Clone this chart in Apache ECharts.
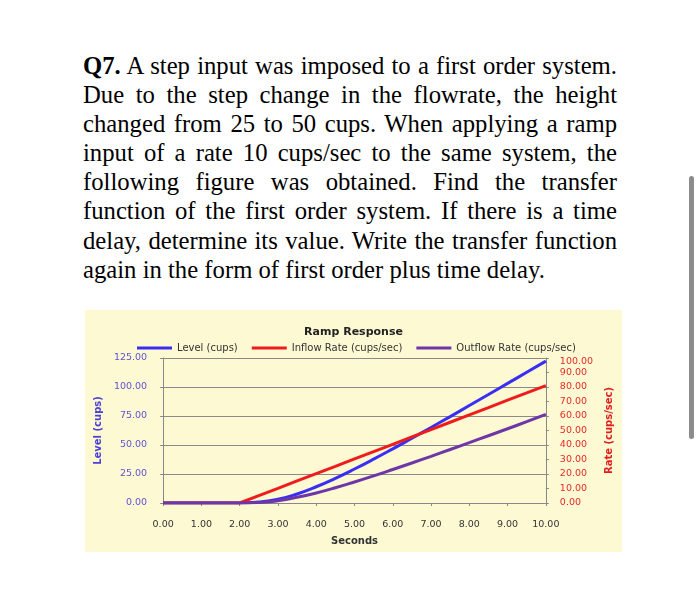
<!DOCTYPE html>
<html>
<head>
<meta charset="utf-8">
<script src="https://cdn.jsdelivr.net/npm/echarts@6/dist/echarts.min.js"></script>
<style>
  html, body { margin: 0; padding: 0; background: #ffffff; width: 700px; height: 597px; overflow: hidden; }
  #question {
    position: absolute; left: 83px; top: 51px; width: 534px;
    font-family: "Liberation Serif", "Times New Roman", serif;
    font-size: 24.7px; line-height: 29.1px; color: #000;
  }
  #question .ln { display: block; text-align: justify; text-align-last: justify; white-space: nowrap; }
  #question .ln.last { text-align: left; text-align-last: left; }
  #chart { position: absolute; left: 85px; top: 310px; width: 537px; height: 242px; }
  #scroll { position: absolute; left: 689px; top: 176px; width: 5px; height: 263px; background: #8c8c8c; border-radius: 3px; }
</style>
</head>
<body>
<div id="question">
  <span class="ln"><b>Q7.</b> A step input was imposed to a first order system.</span>
  <span class="ln">Due to the step change in the flowrate, the height</span>
  <span class="ln">changed from 25 to 50 cups. When applying a ramp</span>
  <span class="ln">input of a rate 10 cups/sec to the same system, the</span>
  <span class="ln">following figure was obtained. Find the transfer</span>
  <span class="ln">function of the first order system. If there is a time</span>
  <span class="ln">delay, determine its value. Write the transfer function</span>
  <span class="ln last">again in the form of first order plus time delay.</span>
</div>
<div id="chart"></div>
<div id="scroll"></div>
<script>
// Time (seconds)
const seconds = [0, 0.5, 1, 1.5, 2, 2.5, 3, 3.5, 4, 4.5, 5, 5.5, 6, 6.5, 7, 7.5, 8, 8.5, 9, 9.5, 10];
// Level (cups) - left axis
const level = [0, 0, 0, 0, 0, 0.8, 3.2, 7.8, 14, 21.3, 29.3, 37.8, 46.7, 55.8, 65.1, 74.5, 84, 93.5, 103.1, 112.7, 122.3];
// Inflow Rate (cups/sec) - right axis
const inflow = [0, 0, 0, 0, 0, 5.1, 10.1, 15.2, 20.3, 25.3, 30.4, 35.4, 40.5, 45.6, 50.6, 55.7, 60.8, 65.8, 70.9, 75.9, 81];
// Outflow Rate (cups/sec) - right axis
const outflow = [0, 0, 0, 0, 0, 0.3, 1.6, 3.9, 6.9, 10.5, 14.5, 18.7, 23.1, 27.6, 32.2, 36.9, 41.6, 46.4, 51.2, 56.1, 61.1];

const seriesNames = ['Level (cups)', 'Inflow Rate (cups/sec)', 'Outflow Rate (cups/sec)'];
const chartTitle = 'Ramp Response';
const xName = 'Seconds';
const leftName = 'Level (cups)';
const rightName = 'Rate (cups/sec)';

const pair = (xs, ys) => xs.map((x, i) => [x, ys[i]]);
const fmt = v => v.toFixed(2);
const font = 'DejaVu Sans';

const chart = echarts.init(document.getElementById('chart'), null, { renderer: 'canvas' });
chart.setOption({
  backgroundColor: '#fcf9d3',
  animation: false,
  title: {
    text: chartTitle, left: 'center', top: 12,
    textStyle: { fontFamily: font, fontSize: 11, fontWeight: 'bold', color: '#222' }
  },
  legend: {
    left: 47, top: 28, itemGap: 14, itemWidth: 35, itemHeight: 3, icon: 'rect',
    textStyle: { fontFamily: font, fontSize: 10, color: '#333' },
    data: seriesNames
  },
  grid: { left: 73, right: 65, top: 48, bottom: 49 },
  xAxis: {
    type: 'value', min: 0, max: 10, interval: 1,
    name: xName, nameLocation: 'middle', nameGap: 33,
    nameTextStyle: { fontFamily: font, fontSize: 10, fontWeight: 'bold', color: '#333' },
    axisLine: { show: true, lineStyle: { color: '#888', width: 1 } },
    axisTick: { show: true, length: 3, lineStyle: { color: '#888' } },
    axisLabel: { formatter: fmt, margin: 17, fontFamily: font, fontSize: 9.5, color: '#333' },
    splitLine: { show: false }
  },
  yAxis: [
    {
      type: 'value', min: 0, max: 125, interval: 25, position: 'left',
      name: leftName, nameLocation: 'middle', nameGap: 41, nameRotate: 90,
      nameTextStyle: { fontFamily: font, fontSize: 10, fontWeight: 'bold', color: '#4b3fd6' },
      axisLine: { show: true, lineStyle: { color: '#888', width: 1 } },
      axisTick: { show: true, length: 3, lineStyle: { color: '#888' } },
      axisLabel: { formatter: fmt, margin: 16, fontFamily: font, fontSize: 9.5, color: '#5f52d6' },
      splitLine: { show: true, lineStyle: { color: '#8a8a8a', width: 1 } }
    },
    {
      type: 'value', min: 0, max: 100, interval: 10, position: 'right',
      name: rightName, nameLocation: 'middle', nameGap: 50, nameRotate: 90,
      nameTextStyle: { fontFamily: font, fontSize: 10, fontWeight: 'bold', color: '#e02020' },
      axisLine: { show: true, lineStyle: { color: '#888', width: 1 } },
      axisTick: { show: true, length: 3, lineStyle: { color: '#888' } },
      axisLabel: {
        formatter: v => (v === 100 ? '{top|' + fmt(v) + '}' : fmt(v)),
        rich: { top: { padding: [8, 0, 0, 0], fontFamily: font, fontSize: 9.5, color: '#e82a2a' } },
        margin: 14, fontFamily: font, fontSize: 9.5, color: '#e82a2a'
      },
      splitLine: { show: false }
    }
  ],
  series: [
    { name: seriesNames[0], type: 'line', yAxisIndex: 0, data: pair(seconds, level), smooth: 0.5,
      showSymbol: false, lineStyle: { color: '#3a2ff0', width: 3 }, itemStyle: { color: '#3a2ff0' } },
    { name: seriesNames[1], type: 'line', yAxisIndex: 1, data: pair(seconds, inflow),
      showSymbol: false, lineStyle: { color: '#ee1c1c', width: 3 }, itemStyle: { color: '#ee1c1c' } },
    { name: seriesNames[2], type: 'line', yAxisIndex: 1, data: pair(seconds, outflow), smooth: 0.5,
      showSymbol: false, lineStyle: { color: '#6e37a8', width: 3 }, itemStyle: { color: '#6e37a8' } }
  ]
});
</script>
</body>
</html>
